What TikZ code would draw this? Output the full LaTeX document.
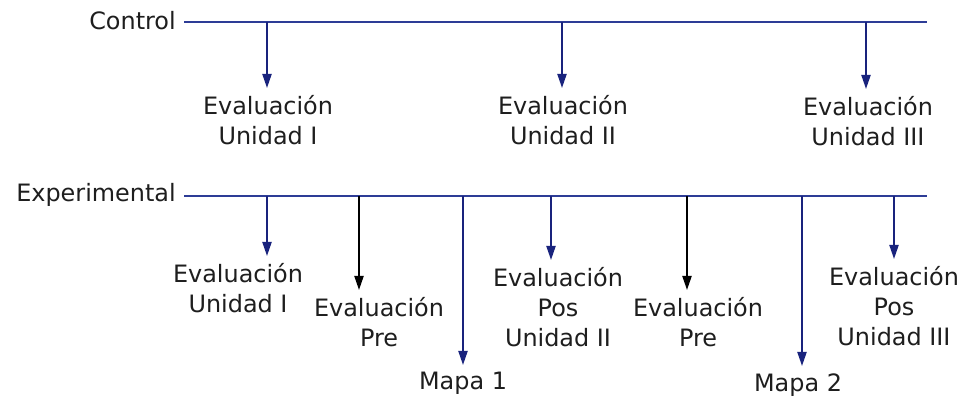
\documentclass[tikz,border=0pt]{standalone}
\usepackage{fontspec}
\setmainfont{DejaVu Sans}
\usepackage{xcolor}
\definecolor{lineblue}{RGB}{45, 60, 150}
\definecolor{arrowblue}{RGB}{25, 35, 125}
\definecolor{textgray}{RGB}{30, 30, 30}
\usetikzlibrary{arrows.meta}

\begin{document}
\begin{tikzpicture}[x=0.025cm, y=-0.025cm,
    lbl/.style={font=\fontsize{17}{21.5}\selectfont, text=textgray, align=center, inner sep=0pt, anchor=north},
    grp/.style={font=\fontsize{17}{21.5}\selectfont, text=textgray, inner sep=0pt, anchor=east},
    tip/.style={-{Triangle[width=6.5pt, length=10pt]}, line width=1.3pt, shorten >=5pt}]
      \useasboundingbox (0, 0) rectangle (965, 396);

      % group lines
      \coordinate (CA) at (184, 22);
      \coordinate (CB) at (927, 22);
      \coordinate (EA) at (184, 196);
      \coordinate (EB) at (927, 196);

      \node[grp] (control) at (176, 21) {Control};
      \node[grp] (exper) at (176, 195) {Experimental};

      \draw[lineblue, line width=1.6pt] (CA)--(CB);
      \draw[lineblue, line width=1.6pt] (EA)--(EB);

      % control group
      \coordinate (C1) at (267, 22);
      \coordinate (C2) at (562, 22);
      \coordinate (C3) at (866, 22);

      \node[lbl] (c1) at (268, 95) {Evaluación\\Unidad I};
      \node[lbl] (c2) at (563, 95) {Evaluación\\Unidad II};
      \node[lbl] (c3) at (868, 96) {Evaluación\\Unidad III};

      \draw[tip, arrowblue] (C1)--(C1 |- c1.north);
      \draw[tip, arrowblue] (C2)--(C2 |- c2.north);
      \draw[tip, arrowblue] (C3)--(C3 |- c3.north);

      % experimental group
      \coordinate (E1) at (267, 196);
      \coordinate (E2) at (359, 196);
      \coordinate (E3) at (463, 196);
      \coordinate (E4) at (551, 196);
      \coordinate (E5) at (687, 196);
      \coordinate (E6) at (802, 196);
      \coordinate (E7) at (894, 196);

      \node[lbl] (e1) at (238, 263) {Evaluación\\Unidad I};
      \node[lbl] (e2) at (379, 297) {Evaluación\\Pre};
      \node[lbl] (e3) at (463, 372) {Mapa 1};
      \node[lbl] (e4) at (558, 267) {Evaluación\\Pos\\Unidad II};
      \node[lbl] (e5) at (698, 297) {Evaluación\\Pre};
      \node[lbl] (e6) at (798, 373) {Mapa 2};
      \node[lbl] (e7) at (894, 266) {Evaluación\\Pos\\Unidad III};

      \draw[tip, arrowblue] (E1)--(E1 |- e1.north);
      \draw[tip, black] (E2)--(E2 |- e2.north);
      \draw[tip, arrowblue] (E3)--(E3 |- e3.north);
      \draw[tip, arrowblue] (E4)--(E4 |- e4.north);
      \draw[tip, black] (E5)--(E5 |- e5.north);
      \draw[tip, arrowblue] (E6)--(E6 |- e6.north);
      \draw[tip, arrowblue] (E7)--(E7 |- e7.north);
    \end{tikzpicture}
\end{document}
